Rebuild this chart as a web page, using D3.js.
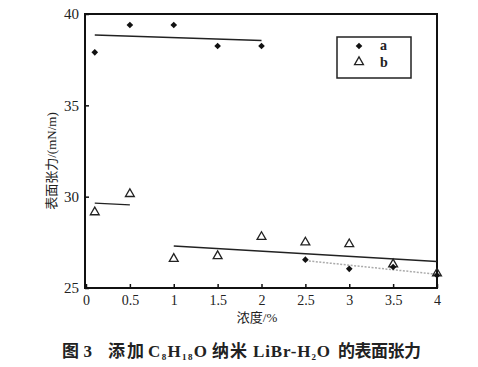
<!DOCTYPE html>
<html lang="zh">
<head>
<meta charset="UTF-8">
<title>表面张力</title>
<script src="https://d3js.org/d3.v7.min.js"></script>
<style>
  body { margin: 0; background: #fff; }
  svg text { font-family: "Liberation Serif", "DejaVu Serif", "Noto Sans CJK SC", serif; fill: #222; }
  .cjk { font-family: "Liberation Serif", "Noto Sans CJK SC", sans-serif; }
</style>
</head>
<body>
<svg id="chart" width="478" height="367"></svg>
<script>
// data
const xTicks = [0, 0.5, 1, 1.5, 2, 2.5, 3, 3.5, 4];
const xTickLabels = ["0", "0.5", "1", "1.5", "2", "2.5", "3", "3.5", "4"];
const yTicks = [25, 30, 35, 40];

const concA = [0.1, 0.5, 1, 1.5, 2, 2.5, 3, 3.5, 4];
const tensionA = [37.9, 39.4, 39.4, 38.25, 38.25, 26.55, 26.05, 26.15, 25.7];

const concB = [0.1, 0.5, 1, 1.5, 2, 2.5, 3, 3.5, 4];
const tensionB = [29.15, 30.15, 26.6, 26.75, 27.8, 27.5, 27.4, 26.3, 25.8];

// fitted lines: [x0, y0, x1, y1]
const fitSolid = [
  [0.1, 38.85, 2, 38.55],
  [0.1, 29.65, 0.5, 29.55],
  [1, 27.3, 4, 26.45]
];
const fitGray = [[2.5, 26.5, 4, 25.75]];

const svg = d3.select("#chart");
const x = d3.scaleLinear().domain([0, 4]).range([86, 437]);
const y = d3.scaleLinear().domain([25, 40]).range([288, 14]);

// frame
svg.append("rect")
  .attr("x", 85).attr("y", y(40))
  .attr("width", x(4) - 85).attr("height", y(25) - y(40))
  .attr("fill", "none").attr("stroke", "#111").attr("stroke-width", 2);

// x axis
const xAxis = svg.append("g")
  .attr("transform", `translate(0,${y(25)})`)
  .call(d3.axisBottom(x).tickValues(xTicks).tickSizeInner(-4).tickSizeOuter(0)
    .tickPadding(7).tickFormat((d, i) => xTickLabels[i]));
xAxis.select(".domain").remove();
xAxis.selectAll("line").attr("stroke", "#111").attr("stroke-width", 1.5);
xAxis.selectAll("text").attr("font-size", 14).attr("fill", "#222")
  .attr("font-family", "Liberation Serif, serif");

// y axis
const yAxis = svg.append("g")
  .attr("transform", "translate(85,0)")
  .call(d3.axisLeft(y).tickValues(yTicks).tickSizeInner(-4).tickSizeOuter(0).tickPadding(6));
yAxis.select(".domain").remove();
yAxis.selectAll("line").attr("stroke", "#111").attr("stroke-width", 1.5);
yAxis.selectAll("text").attr("font-size", 15).attr("fill", "#222")
  .attr("font-family", "Liberation Serif, serif");

// fit lines
svg.selectAll(".fit").data(fitSolid).enter().append("line")
  .attr("x1", d => x(d[0])).attr("y1", d => y(d[1]))
  .attr("x2", d => x(d[2])).attr("y2", d => y(d[3]))
  .attr("stroke", "#222").attr("stroke-width", 1.3);
svg.selectAll(".fitg").data(fitGray).enter().append("line")
  .attr("x1", d => x(d[0])).attr("y1", d => y(d[1]))
  .attr("x2", d => x(d[2])).attr("y2", d => y(d[3]))
  .attr("stroke", "#aaa").attr("stroke-width", 1.5).attr("stroke-dasharray", "2,1.5");

// markers (diamond = rotated square so it is as wide as it is tall)
const diamond = d3.symbol().type(d3.symbolSquare).size(22);
const triangle = d3.symbol().type(d3.symbolTriangle).size(34);

svg.selectAll(".b").data(concB).enter().append("path")
  .attr("d", triangle)
  .attr("transform", (d, i) => `translate(${x(d)},${y(tensionB[i])})`)
  .attr("fill", "none").attr("stroke", "#222").attr("stroke-width", 1.3);

svg.selectAll(".a").data(concA).enter().append("path")
  .attr("d", diamond)
  .attr("transform", (d, i) => `translate(${x(d)},${y(tensionA[i])}) rotate(45)`)
  .attr("fill", "#111");

// legend
const lg = svg.append("g");
lg.append("rect").attr("x", 337).attr("y", 37).attr("width", 74).attr("height", 41)
  .attr("fill", "#fff").attr("stroke", "#222").attr("stroke-width", 1.5);
lg.append("path").attr("d", diamond).attr("transform", "translate(359,46) rotate(45)").attr("fill", "#111");
lg.append("path").attr("d", triangle).attr("transform", "translate(359,62)")
  .attr("fill", "none").attr("stroke", "#222").attr("stroke-width", 1.3);
lg.append("text").attr("x", 380).attr("y", 50).attr("font-size", 14).attr("font-weight", "bold").text("a");
lg.append("text").attr("x", 380).attr("y", 67).attr("font-size", 14).attr("font-weight", "bold").text("b");

// axis titles
svg.append("text").attr("class", "cjk")
  .attr("transform", "translate(56,161) rotate(-90)")
  .attr("text-anchor", "middle").attr("font-size", 13)
  .text("表面张力/(mN/m)");
svg.append("text").attr("class", "cjk")
  .attr("x", 257).attr("y", 322).attr("text-anchor", "middle").attr("font-size", 13)
  .text("浓度/%");

// caption
const capY = 357;
const cap = svg.append("g").attr("class", "cjk")
  .attr("font-size", 17).attr("font-weight", "bold");
function capText(x0, len) {
  return cap.append("text").attr("x", x0).attr("y", capY)
    .attr("textLength", len).attr("lengthAdjust", "spacing");
}
capText(62, 30).text("图 3");
capText(108, 36).text("添加");
const c1 = capText(148, 59);
c1.append("tspan").text("C");
c1.append("tspan").attr("font-size", 9).attr("dy", 3).text("8");
c1.append("tspan").attr("dy", -3).text("H");
c1.append("tspan").attr("font-size", 9).attr("dy", 3).text("18");
c1.append("tspan").attr("dy", -3).text("O");
capText(212, 35).text("纳米");
const c2 = capText(253, 77);
c2.append("tspan").text("LiBr-H");
c2.append("tspan").attr("font-size", 9).attr("dy", 3).text("2");
c2.append("tspan").attr("dy", -3).text("O");
capText(338, 83).text("的表面张力");
</script>
</body>
</html>
